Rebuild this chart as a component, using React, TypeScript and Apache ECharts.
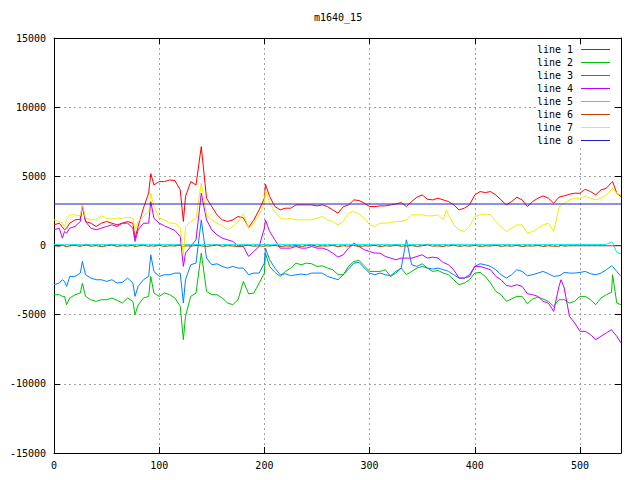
import React, { useEffect, useRef } from "react";
import * as echarts from "echarts";

const xs = [
  0, 5, 8, 10, 12, 15, 20, 25, 27, 30, 35, 40, 45, 50, 55, 60, 65, 70, 75, 77, 80, 85, 90, 92, 95,
  100, 105, 110, 115, 120, 123, 125, 130, 135, 140, 145, 150, 155, 160, 165, 170, 175, 180, 185, 190, 195,
  200, 201, 205, 210, 215, 220, 225, 230, 235, 240, 245, 250, 255, 260, 265, 270, 275, 280, 285, 290, 295,
  300, 305, 310, 315, 320, 325, 330, 335, 340, 345, 350, 355, 360, 365, 370, 373, 375, 380, 385, 390, 395,
  400, 405, 410, 415, 420, 425, 430, 435, 440, 445, 450, 455, 460, 465, 470, 475, 480, 482, 485, 490, 495,
  500, 505, 510, 515, 520, 525, 530, 531, 535, 539,
];

const line1 = [
  1493, 1614, 1325, 1133, 1253, 1614, 1854, 1900, 2936, 1734, 1614, 1373, 1614, 1734, 1614, 1493, 1614, 1734, 1614, 531, 1373, 2696, 3800, 5200, 4379,
  4620, 4620, 4740, 4690, 4019, 1734, 3538, 4620, 4379, 7145, 3417, 2816, 2215, 1854, 1734, 1854, 2095, 2000, 1300, 1854, 2576,
  3417, 4427, 3538, 2816, 2576, 2696, 2696, 2936, 2936, 2936, 2936, 2864, 2936, 2816, 2576, 2335, 2800, 2936, 3297, 3250, 3057,
  2816, 2816, 2864, 2864, 2936, 3000, 3105, 2816, 3177, 3489, 3658, 3345, 3297, 3417, 3297, 3225, 3177, 2936, 2576, 2696, 2936,
  3658, 3898, 3826, 3898, 3658, 3297, 2936, 3177, 3489, 3297, 2816, 3177, 3417, 3586, 3417, 3057, 3489, 3538, 3586, 3706, 3778,
  3778, 4067, 3898, 3658, 4019, 4139, 4550, 4620, 3778, 3538,
];

const line2 = [
  -3557, -3557, -3677, -3677, -4279, -3798, -3557, -3437, -2715, -3677, -3918, -4038, -3918, -3918, -3798, -3966, -4159, -3798, -4038, -5000, -4300, -3798, -3677, -2235, -3437,
  -3677, -3437, -3557, -3798, -4399, -6804, -5121, -3677, -3437, -551, -3317, -3557, -3557, -3798, -4159, -4279, -3918, -2595, -3500, -3437, -2715,
  -1994, -551, -1513, -1946, -2235, -1874, -1633, -1273, -1393, -1273, -1321, -1513, -1465, -1633, -1754, -2114, -2114, -1513, -1152, -1080, -1465,
  -1874, -1874, -1874, -1754, -2235, -1994, -1633, -2114, -1874, -1633, -1513, -1633, -1874, -1802, -1994, -2066, -2114, -2475, -2836, -2715, -2475,
  -1994, -1946, -2235, -2715, -3317, -3557, -4038, -3870, -3677, -3677, -4207, -3870, -3726, -3870, -4038, -4399, -3918, -3918, -3918, -4159, -4038,
  -3677, -3677, -3918, -4279, -3798, -3557, -3389, -2114, -4159, -4279,
];

const line3 = [
  -2836, -2715, -2475, -2595, -2956, -2235, -2235, -1994, -1152, -2114, -2355, -2475, -2475, -2595, -2475, -2715, -2667, -2355, -2715, -3677, -2956, -2475, -2235, -671, -1874,
  -2235, -2114, -2114, -1994, -1994, -4159, -2475, -1393, -1273, 1854, -912, -1393, -1321, -1513, -1633, -1513, -1633, -1633, -2114, -1994, -1994,
  -1273, -190, -1032, -1633, -2114, -2042, -2186, -2114, -2066, -2114, -1994, -1994, -1994, -2235, -2355, -2475, -2114, -1705, -1273, -1224, -1633,
  -1994, -2114, -1994, -2114, -2186, -1874, -1633, 411, -1393, -1513, -1321, -1633, -1705, -1633, -1754, -1802, -1874, -2114, -2355, -2355, -2114,
  -1513, -1321, -1393, -1513, -1754, -2114, -2355, -2114, -1754, -1874, -2186, -2114, -1994, -1874, -2042, -2235, -2186, -2114, -1946, -1994, -1994,
  -1946, -1874, -2042, -2114, -1994, -1754, -1465, -1513, -1874, -2235,
];

const line4 = [
  1133, 1253, 531, 1012, 892, 1253, 1373, 1734, 2816, 1734, 1253, 1133, 1253, 1373, 1493, 1373, 1614, 1614, 1253, 291, 1133, 1614, 1614, 3177, 1974,
  1614, 1421, 1253, 1085, 652, -1513, -551, -70, 411, 3778, 1854, 1133, 772, 531, 411, 291, -22, -70, -792, -431, -70,
  1253, 1854, 1012, 411, -190, -190, -190, -70, -190, -190, -70, -190, -190, -311, -551, -840, -671, -190, 171, -70, -311,
  -431, -551, -551, -792, -912, -1032, -912, -912, -912, -792, -671, -912, -840, -912, -1224, -1321, -1393, -1754, -2355, -2355, -2235,
  -1513, -1513, -1633, -1754, -2235, -2475, -2884, -2956, -2836, -2956, -3485, -3557, -3677, -4038, -4159, -4760, -2956, -2475, -3076, -5121, -5602,
  -6203, -6203, -6443, -6804, -6564, -6323, -6083, -6203, -6564, -7045,
];

const line5 = [
  80, 60, 70, 90, 60, 70, 80, 60, 70, 90, 60, 80, 70, 60, 80, 70, 90, 60, 70, 60, 80, 70, 60, 80, 70,
  60, 80, 70, 90, 60, 70, 80, 60, 70, 80, 60, 90, 70, 60, 80, 70, 60, 80, 70, 90, 60,
  70, 80, 60, 70, 90, 60, 80, 70, 60, 80, 70, 90, 60, 70, 80, 60, 70, 90, 60, 80, 70,
  60, 80, 70, 90, 60, 70, 80, 60, 70, 80, 60, 90, 70, 60, 80, 70, 60, 80, 70, 90, 60,
  70, 80, 60, 70, 90, 60, 80, 70, 60, 80, 70, 90, 60, 70, 80, 60, 70, 70, 70, 70, 70,
  70, 70, 70, 70, 70, 80, 250, 200, -500, -600,
];

const line6 = [
  -20, -60, 20, -40, -90, -30, 10, -70, -20, 40, -50, -10, -80, -20, 30, -60, -20, -40, 10, -90, -30, 0, -60, -20, -50,
  10, -70, -20, -40, 30, -80, -20, -50, 10, -30, -70, -20, 40, -60, -10, -40, -90, -20, 10, -50, -30,
  -60, -20, -40, 10, -80, -30, -50, 0, -70, -20, 30, -60, -30, -40, 10, -90, -20, -50, 0, -70, -30,
  -40, 10, -80, -20, -50, 20, -60, -30, -10, -70, -20, 40, -50, -30, -80, -10, -40, 20, -60, -20, -50,
  10, -70, -30, -40, 20, -60, -20, -50, 10, -80, -30, -40, 0, -70, -20, -50, -60, 10, -50, -20, -20,
  -20, -20, -20, -20, -20, -20, -20, -20, -20, -20,
];

const line7 = [
  1854, 1734, 1614, 1373, 1854, 2215, 2215, 2143, 2936, 1974, 1854, 1854, 2143, 1974, 1900, 1974, 1974, 2040, 1974, 1133, 1734, 2095, 2455, 3778, 2816,
  1974, 1854, 1614, 1614, 1253, -671, 1373, 1734, 1974, 4500, 2215, 1854, 1614, 1421, 1133, 1373, 1734, 2287, 1250, 1614, 2215,
  3057, 4019, 3057, 2455, 1974, 1900, 1974, 1854, 1854, 1854, 1854, 1974, 2095, 1854, 1734, 1493, 1734, 2335, 2455, 2287, 1974,
  1493, 1373, 1614, 1614, 1662, 1734, 1734, 1854, 2215, 2215, 2215, 2143, 2143, 2215, 1854, 2576, 2215, 1493, 1133, 1012, 1373,
  2095, 2215, 2287, 2215, 1734, 1373, 1012, 1253, 1493, 1493, 892, 1012, 1253, 1493, 1614, 1012, 2696, 2936, 3057, 3297, 3417,
  3417, 3538, 3417, 3297, 3417, 3658, 4067, 4139, 3778, 3658,
];

const line8X = [0, 539];
const line8Y = [3000, 3000];

const seriesNames = ["line 1", "line 2", "line 3", "line 4", "line 5", "line 6", "line 7", "line 8"];
const seriesColors = ["#ff0000", "#00c000", "#0080ff", "#c000ff", "#00eeee", "#c04000", "#eeee00", "#2020c0"];

const yTicks = { min: -15000, max: 15000, interval: 5000 };
const xTicks = { min: 0, max: 539, interval: 100 };

const FONT = "DejaVu Sans Mono";

export default function App() {
  const ref = useRef<HTMLDivElement>(null);
  useEffect(() => {
    if (!ref.current) return;
    const chart = echarts.init(ref.current, undefined, { renderer: "svg" });
    const pairs = (ys: number[]) => xs.map((x, i) => [x, ys[i]]);
    const allData = [
      pairs(line1), pairs(line2), pairs(line3), pairs(line4),
      pairs(line5), pairs(line6), pairs(line7),
      line8X.map((x, i) => [x, line8Y[i]]),
    ];
    const axisCommon = {
      type: "value" as const,
      axisLine: { show: true, onZero: false, lineStyle: { color: "#000", width: 1 } },
      axisTick: { show: true, inside: true, length: 6, lineStyle: { color: "#000", width: 1 } },
    };
    const legendTop = 49;
    const legendStep = 13;
    const legendItems: any[] = [];
    seriesNames.forEach((name, i) => {
      const cy = legendTop + legendStep * i;
      legendItems.push({
        type: "text",
        z: 10,
        silent: true,
        style: {
          text: name,
          x: 573,
          y: cy,
          align: "right",
          verticalAlign: "middle",
          fontFamily: FONT,
          fontSize: 10,
          fill: "#000",
        },
      });
      legendItems.push({
        type: "line",
        z: 10,
        silent: true,
        shape: { x1: 581, y1: cy + 0.5, x2: 610, y2: cy + 0.5 },
        style: { stroke: seriesColors[i], lineWidth: 1 },
      });
    });
    chart.setOption({
      animation: false,
      backgroundColor: "#fff",
      color: seriesColors,
      title: {
        text: "m1640_15",
        left: 314,
        top: 12,
        padding: 0,
        textStyle: { fontFamily: FONT, fontSize: 10, fontWeight: "normal", color: "#000" },
      },
      grid: { left: 54, right: 19, top: 38, bottom: 27, containLabel: false, outerBoundsMode: "none" },
      xAxis: [
        {
          ...axisCommon,
          position: "bottom",
          min: xTicks.min,
          max: xTicks.max,
          interval: xTicks.interval,
          axisLabel: {
            show: true,
            margin: 7,
            fontFamily: FONT,
            fontSize: 10,
            color: "#000",
            formatter: (v: number) => (v % 100 === 0 ? String(v) : ""),
          },
          splitLine: { show: true, lineStyle: { color: "#a0a0a0", width: 1, type: [2, 3] } },
        },
        {
          ...axisCommon,
          position: "top",
          min: xTicks.min,
          max: xTicks.max,
          interval: xTicks.interval,
          axisLabel: { show: false },
          splitLine: { show: false },
        },
      ],
      yAxis: [
        {
          ...axisCommon,
          position: "left",
          min: yTicks.min,
          max: yTicks.max,
          interval: yTicks.interval,
          axisLabel: {
            show: true,
            margin: 8,
            fontFamily: FONT,
            fontSize: 10,
            color: "#000",
            formatter: (v: number) => String(v),
          },
          splitLine: { show: true, lineStyle: { color: "#a0a0a0", width: 1, type: [2, 3] } },
        },
        {
          ...axisCommon,
          position: "right",
          min: yTicks.min,
          max: yTicks.max,
          interval: yTicks.interval,
          axisLabel: { show: false },
          splitLine: { show: false },
        },
      ],
      graphic: [
        {
          type: "rect",
          z: 1,
          silent: true,
          shape: { x: 538, y: 45, width: 76, height: 103 },
          style: { fill: "#fff" },
        },
        ...legendItems,
      ],
      series: seriesNames.map((name, i) => ({
        name,
        type: "line",
        xAxisIndex: 0,
        yAxisIndex: 0,
        data: allData[i],
        showSymbol: false,
        symbol: "none",
        smooth: false,
        color: seriesColors[i],
        lineStyle: { width: 1, color: seriesColors[i] },
        itemStyle: { color: seriesColors[i] },
        emphasis: { disabled: true },
        z: 2 + i * 0.01,
      })),
    });
    return () => chart.dispose();
  }, []);
  return (
    <div
      ref={ref}
      style={{ position: "absolute", left: 0, top: 0, width: 640, height: 480 }}
    />
  );
}
